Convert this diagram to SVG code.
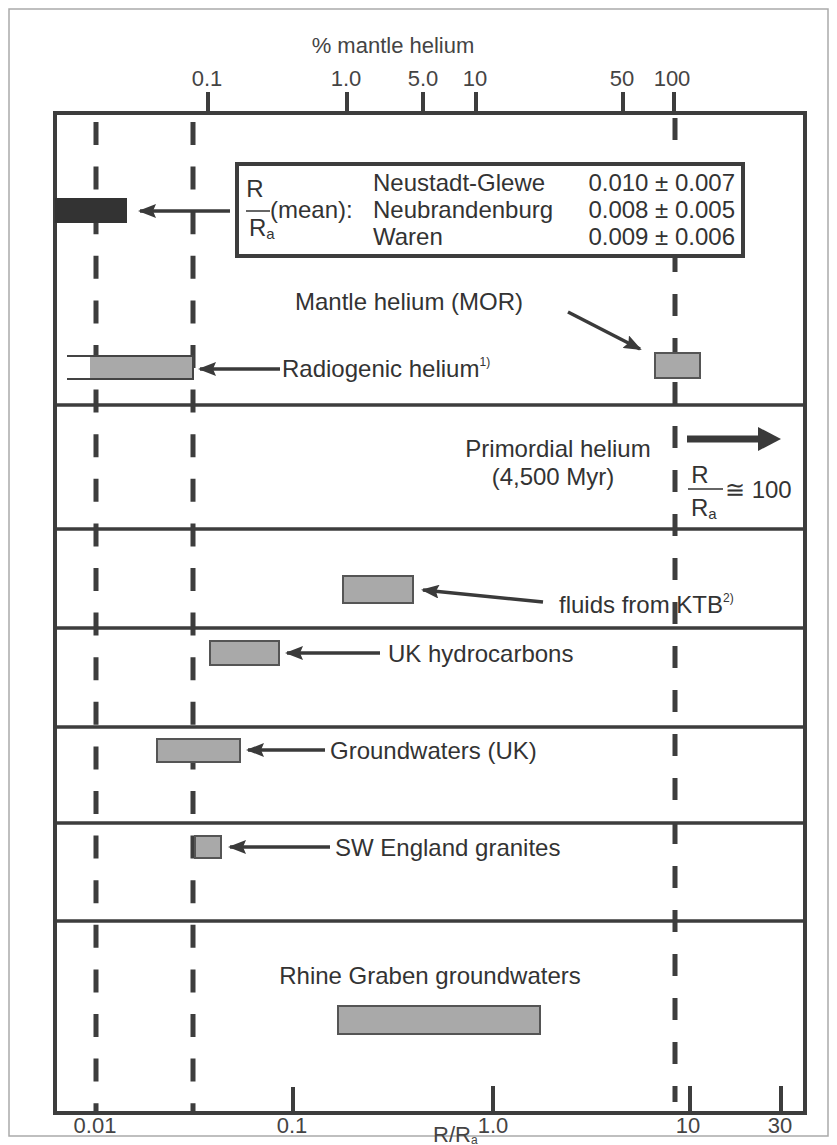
<svg xmlns="http://www.w3.org/2000/svg" width="837" height="1145" viewBox="0 0 837 1145">
<defs>
<marker id="ah" markerUnits="userSpaceOnUse" markerWidth="18" markerHeight="14" refX="16" refY="7" orient="auto" viewBox="0 0 18 14">
<path d="M0,0 L18,7 L0,14 L3,7 Z" fill="#3a3a3a"/>
</marker>
</defs>
<style>
.t{font-family:"Liberation Sans",Arial,sans-serif;font-size:24px;fill:#333}
.ax{font-family:"Liberation Sans",Arial,sans-serif;font-size:22px;fill:#444}
.sup{font-family:"Liberation Sans",Arial,sans-serif;font-size:12px;fill:#333}
.frame{fill:none;stroke:#3d3d3d;stroke-width:4}
.row{stroke:#3d3d3d;stroke-width:3.5}
.tick{stroke:#3d3d3d;stroke-width:4}
.dash{stroke:#3d3d3d;stroke-width:5;stroke-dasharray:23 21.6}
.dash2{stroke:#3d3d3d;stroke-width:5;stroke-dasharray:22 22}
.bar{fill:#a9a9a9;stroke:#555;stroke-width:2}
.arr{stroke:#3a3a3a;stroke-width:3.5;fill:none}
</style>
<rect x="9" y="9" width="819" height="1127" fill="#fff" stroke="#aaa" stroke-width="1.5"/>

<g id="axes">
<text class="ax" x="393" y="53" text-anchor="middle">% mantle helium</text>
<g class="ax" text-anchor="middle">
<text x="207" y="86">0.1</text>
<text x="346" y="86">1.0</text>
<text x="423" y="86">5.0</text>
<text x="475" y="86">10</text>
<text x="622" y="86">50</text>
<text x="672" y="86">100</text>
</g>
<g class="tick">
<line x1="208" y1="92" x2="208" y2="113"/>
<line x1="347" y1="92" x2="347" y2="113"/>
<line x1="423" y1="92" x2="423" y2="113"/>
<line x1="476" y1="92" x2="476" y2="113"/>
<line x1="623" y1="92" x2="623" y2="113"/>
<line x1="674" y1="92" x2="674" y2="113"/>
<line x1="293" y1="1087" x2="293" y2="1113"/>
<line x1="493" y1="1086" x2="493" y2="1113"/>
<line x1="690" y1="1086" x2="690" y2="1113"/>
<line x1="781" y1="1086" x2="781" y2="1113"/>
</g>
<g class="ax" text-anchor="middle">
<text x="95" y="1133">0.01</text>
<text x="292" y="1133">0.1</text>
<text x="493" y="1133">1.0</text>
<text x="688" y="1133">10</text>
<text x="780" y="1133">30</text>
</g>
<text class="ax" x="433" y="1142">R/R<tspan font-size="12" dy="2">a</tspan></text>
</g>

<g id="grid">
<line class="dash" x1="96" y1="122" x2="96" y2="1113"/>
<line class="dash" x1="193" y1="122" x2="193" y2="1113"/>
<line class="dash2" x1="675" y1="118" x2="675" y2="1102"/>
<g class="row">
<line x1="55" y1="405" x2="805" y2="405"/>
<line x1="55" y1="529" x2="805" y2="529"/>
<line x1="55" y1="628" x2="805" y2="628"/>
<line x1="55" y1="727" x2="805" y2="727"/>
<line x1="55" y1="823" x2="805" y2="823"/>
<line x1="55" y1="921" x2="805" y2="921"/>
</g>
<rect class="frame" x="55" y="113" width="750" height="1000"/>
</g>

<g id="legend">
<rect x="237" y="164" width="506" height="92" fill="#fff" stroke="#3d3d3d" stroke-width="4"/>
<text class="t" x="255" y="197" text-anchor="middle">R</text>
<line x1="246" y1="211" x2="270" y2="211" stroke="#333" stroke-width="1.5"/>
<text class="t" x="249" y="236">R<tspan font-size="15" dy="3">a</tspan></text>
<text class="t" x="270" y="218">(mean):</text>
<text class="t" x="373" y="191">Neustadt-Glewe</text>
<text class="t" x="373" y="218">Neubrandenburg</text>
<text class="t" x="373" y="245">Waren</text>
<text class="t" x="735" y="191" text-anchor="end">0.010 ± 0.007</text>
<text class="t" x="735" y="218" text-anchor="end">0.008 ± 0.005</text>
<text class="t" x="735" y="245" text-anchor="end">0.009 ± 0.006</text>
</g>

<g id="measured">
<rect x="55" y="198" width="72" height="25" fill="#333"/>
</g>

<g id="radiogenic">
<rect x="90" y="356" width="103" height="23" fill="#a9a9a9"/>
<path d="M67,356 H193 V379 H67" fill="none" stroke="#444" stroke-width="2"/>
<text class="t" x="282" y="377">Radiogenic helium<tspan class="sup" dy="-11">1)</tspan></text>
</g>

<g id="mor">
<rect class="bar" x="655" y="353" width="45" height="25"/>
<text class="t" x="295" y="310">Mantle helium (MOR)</text>
</g>

<g id="primordial">
<text class="t" x="558" y="457" text-anchor="middle">Primordial helium</text>
<text class="t" x="553" y="485" text-anchor="middle">(4,500 Myr)</text>
<text class="t" x="700" y="483" text-anchor="middle">R</text>
<line x1="688" y1="489" x2="723" y2="489" stroke="#333" stroke-width="1.5"/>
<text class="t" x="691" y="516">R<tspan font-size="15" dy="3">a</tspan></text>
<text class="t" x="725" y="498">≅ 100</text>
</g>

<g id="ktb">
<rect class="bar" x="343" y="576" width="70" height="27"/>
<text class="t" x="559" y="613">fluids from KTB<tspan class="sup" dy="-11">2)</tspan></text>
</g>

<g id="ukhydro">
<rect class="bar" x="210" y="641" width="69" height="24"/>
<text class="t" x="388" y="662">UK hydrocarbons</text>
</g>

<g id="gwuk">
<rect class="bar" x="157" y="739" width="83" height="23"/>
<text class="t" x="330" y="759">Groundwaters (UK)</text>
</g>

<g id="swengland">
<rect class="bar" x="195" y="836" width="26" height="22"/>
<text class="t" x="335" y="856">SW England granites</text>
</g>

<g id="rhine">
<rect class="bar" x="338" y="1006" width="202" height="28"/>
<text class="t" x="430" y="984" text-anchor="middle">Rhine Graben groundwaters</text>
</g>

<g id="connectors">
<line class="arr" x1="230" y1="211" x2="140" y2="211" marker-end="url(#ah)"/>
<line class="arr" x1="280" y1="369" x2="200" y2="369" marker-end="url(#ah)"/>
<line class="arr" x1="568" y1="312" x2="640" y2="349" marker-end="url(#ah)"/>
<line class="arr" x1="543" y1="602" x2="423" y2="590" marker-end="url(#ah)"/>
<line class="arr" x1="380" y1="653" x2="287" y2="653" marker-end="url(#ah)"/>
<line class="arr" x1="325" y1="750" x2="248" y2="750" marker-end="url(#ah)"/>
<line class="arr" x1="330" y1="847" x2="230" y2="847" marker-end="url(#ah)"/>
<line x1="687" y1="439" x2="762" y2="439" stroke="#3a3a3a" stroke-width="7"/>
<path d="M758,427 L781,439 L758,451 Z" fill="#3a3a3a"/>
</g>
</svg>
